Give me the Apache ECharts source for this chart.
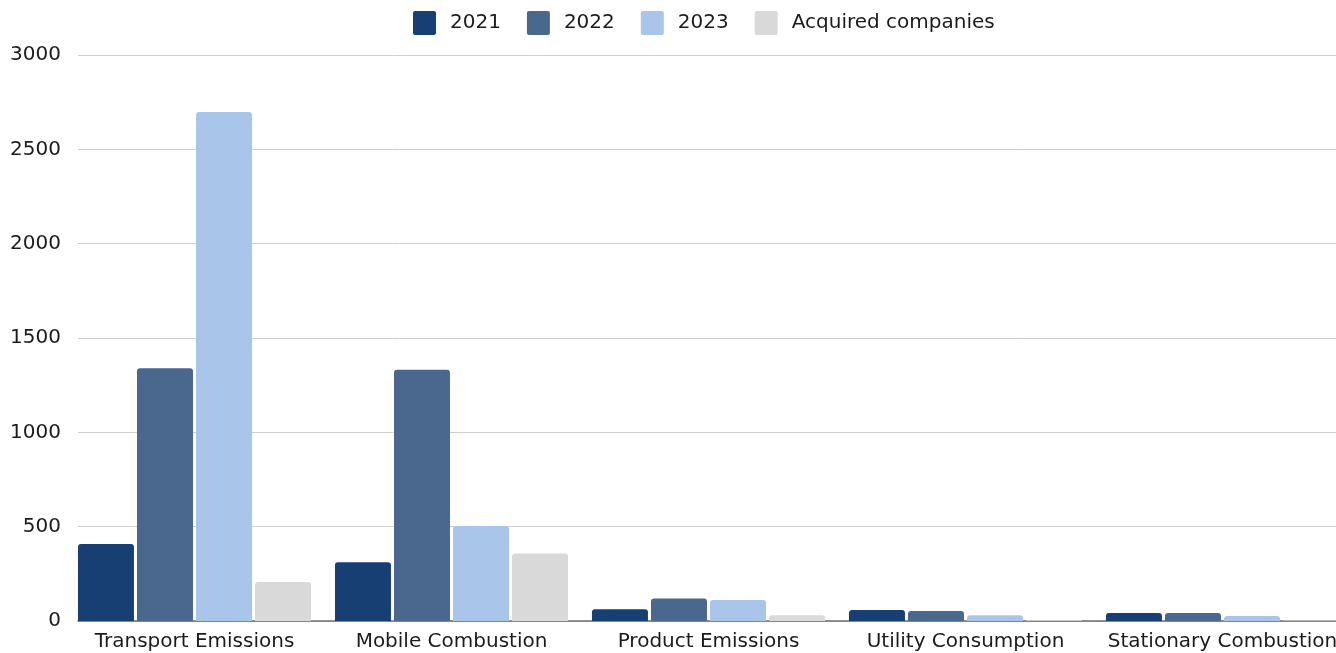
<!DOCTYPE html>
<html>
<head>
<meta charset="utf-8">
<title>Emissions by source</title>
<script src="https://cdn.jsdelivr.net/npm/echarts@6/dist/echarts.min.js"></script>
<style>
  html, body { margin: 0; padding: 0; background: #ffffff; }
  #chart { width: 1336px; height: 653px; }
</style>
</head>
<body>
<div id="chart"></div>
<script>
// Emission sources and yearly totals
const categories = ['Transport Emissions', 'Mobile Combustion', 'Product Emissions', 'Utility Consumption', 'Stationary Combustion'];
const values2021 = [408, 312, 62, 58, 42];
const values2022 = [1340, 1332, 119, 53, 42];
const values2023 = [2698, 503, 111, 30, 27];
const valuesAcquired = [207, 358, 30, 4, 2];
const yTicks = { min: 0, max: 3000, interval: 500 };

const FONT = '"DejaVu Sans", sans-serif';
const TEXT = '#1c1c1c';
const FONT_SIZE = 20;

const chart = echarts.init(document.getElementById('chart'), null, { renderer: 'canvas' });

function barSeries(name, data, color) {
  return {
    name: name,
    type: 'bar',
    xAxisIndex: 0,
    yAxisIndex: 0,
    data: data,
    barWidth: 56,
    barGap: '5.4%',
    itemStyle: { color: color, borderRadius: [3, 3, 0, 0] },
    emphasis: { disabled: true }
  };
}

// small-radius square legend swatch
const swatch = 'path://M2,0 L21,0 Q23,0 23,2 L23,22 Q23,24 21,24 L2,24 Q0,24 0,22 L0,2 Q0,0 2,0 Z';

chart.setOption({
  animation: false,
  textStyle: { fontFamily: FONT },
  legend: {
    top: 6,
    left: 408,
    itemWidth: 23,
    itemHeight: 24,
    itemGap: 26,
    icon: swatch,
    textStyle: { fontSize: FONT_SIZE, color: TEXT, fontFamily: FONT, padding: [0, 0, 0, 9] },
    data: ['2021', '2022', '2023', 'Acquired companies']
  },
  grid: [
    // bars; the last category label runs past the right edge
    { left: 66, width: 1285, top: 55, bottom: 32, outerBoundsMode: 'none' },
    // value scale, grid lines and baseline
    { left: 78, right: 0, top: 55, bottom: 32, outerBoundsMode: 'none' }
  ],
  xAxis: [
    {
      type: 'category',
      gridIndex: 0,
      data: categories,
      axisLine: { show: false },
      axisTick: { show: false },
      axisLabel: { fontSize: FONT_SIZE, color: TEXT, fontFamily: FONT, margin: 11, interval: 0 }
    },
    {
      type: 'value',
      gridIndex: 1,
      min: 0,
      max: 1,
      axisLine: { show: true, lineStyle: { color: '#6e6e6e', width: 1.5 } },
      axisTick: { show: false },
      axisLabel: { show: false },
      splitLine: { show: false }
    }
  ],
  yAxis: [
    {
      type: 'value',
      gridIndex: 0,
      min: yTicks.min,
      max: yTicks.max,
      interval: yTicks.interval,
      show: false,
      splitLine: { show: false }
    },
    {
      type: 'value',
      gridIndex: 1,
      min: yTicks.min,
      max: yTicks.max,
      interval: yTicks.interval,
      axisLine: { show: false },
      axisTick: { show: false },
      axisLabel: { fontSize: FONT_SIZE, color: TEXT, fontFamily: FONT, margin: 17, formatter: v => String(v) },
      splitLine: { lineStyle: { color: '#cfcfcf', width: 1 } }
    }
  ],
  series: [
    barSeries('2021', values2021, '#183f74'),
    barSeries('2022', values2022, '#4a688e'),
    barSeries('2023', values2023, '#a9c6ea'),
    barSeries('Acquired companies', valuesAcquired, '#d9d9d9')
  ]
});
</script>
</body>
</html>
